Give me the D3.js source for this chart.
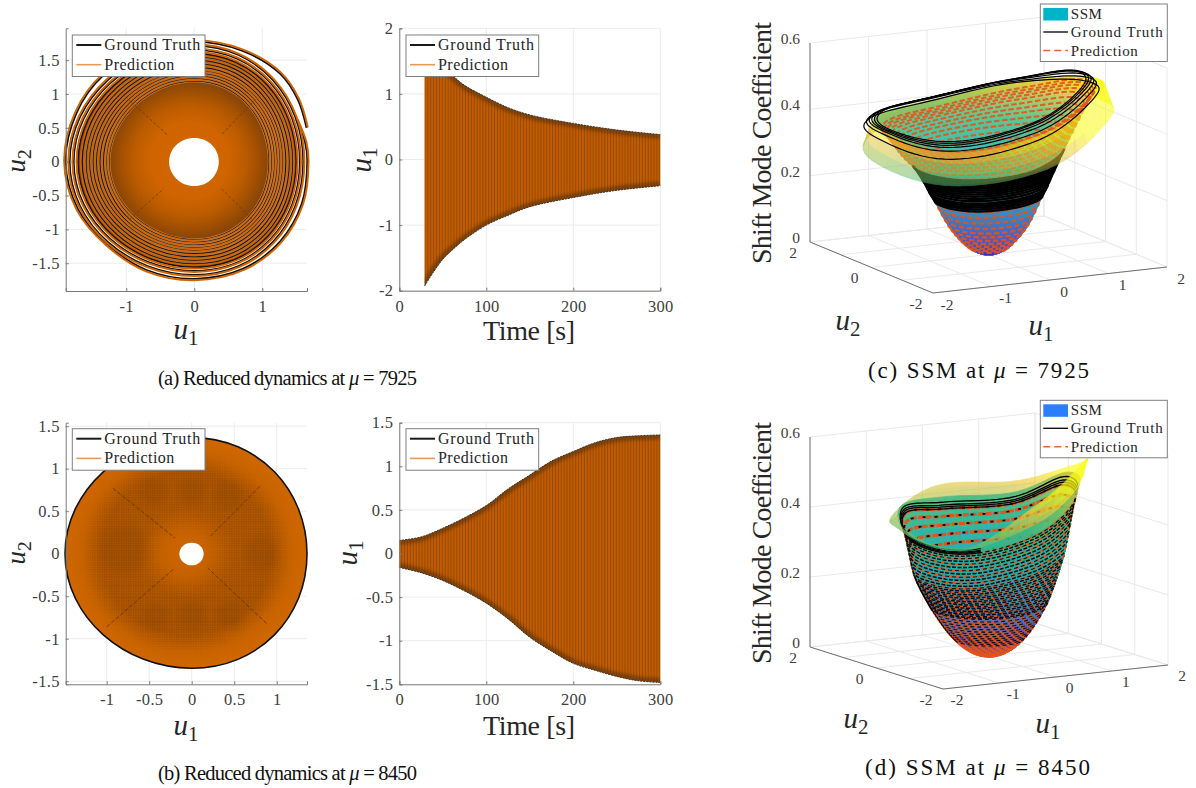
<!DOCTYPE html>
<html>
<head>
<meta charset="utf-8">
<script src="https://cdn.jsdelivr.net/npm/d3@7"></script>
<style>
  html, body { margin: 0; padding: 0; background: #fff; }
  text { font-family: "Liberation Serif", serif; }
</style>
</head>
<body>
<div id="chart"></div>
<script>
// Legend and caption text
var legendLabels = ["Ground Truth", "Prediction"];
var legendLabels3d = ["SSM", "Ground Truth", "Prediction"];

// Tick values
var ticksA1x = [-1, 0, 1];
var ticksA1y = [-1.5, -1, -0.5, 0, 0.5, 1, 1.5];
var ticksA2x = [0, 100, 200, 300];
var ticksA2y = [-2, -1, 0, 1, 2];
var ticksB1x = [-1, -0.5, 0, 0.5, 1];
var ticksB1y = [-1.5, -1, -0.5, 0, 0.5, 1, 1.5];
var ticksB2x = [0, 100, 200, 300];
var ticksB2y = [-1.5, -1, -0.5, 0, 0.5, 1, 1.5];
var ticksU = [-2, -1, 0, 1, 2];
var ticksU2 = [-2, 0, 2];
var ticksZ = [0, 0.2, 0.4, 0.6];

// Phase portrait at mu = 7925: turns of the spiral read where they cross the axes
var ringRightA = [1.60, 1.55, 1.50, 1.45, 1.40, 1.35, 1.30, 1.26, 1.22, 1.18, 1.14, 1.10, 1.06];
var ringTopA = [1.71, 1.65, 1.60, 1.55, 1.50, 1.45, 1.40, 1.35, 1.31, 1.27, 1.23, 1.19, 1.15];
var ringLeftA = [-1.83, -1.77, -1.71, -1.65, -1.59, -1.54, -1.49, -1.44, -1.39, -1.34, -1.29, -1.25, -1.21];
var ringBottomA = [-1.67, -1.61, -1.56, -1.51, -1.46, -1.41, -1.36, -1.31, -1.27, -1.23, -1.19, -1.15, -1.11];
var lastTurnU1 = [1.65, 1.52, 1.26, 0.70, 0, -0.72, -1.34, -1.73, -1.89, -1.71, -1.28, -0.70, 0, 0.72, 1.26, 1.58, 1.66, 1.63, 1.5];
var lastTurnU2 = [0.50, 0.92, 1.30, 1.64, 1.77, 1.62, 1.27, 0.72, 0, -0.70, -1.22, -1.60, -1.73, -1.58, -1.18, -0.62, 0, 0.28, 0.62];
var backingA = [1.5, 1.6, -1.71, -1.56];
var fillEdgeA = [1.08, 1.17, -1.23, -1.13];
var holeA = [0.36, 0.35, -0.37, -0.36];
var seamsA = [[-0.98, 0.93, -0.4, 0.4], [0.9, 0.92, 0.4, 0.4], [-0.95, -0.85, -0.45, -0.4], [0.85, -0.85, 0.4, -0.4]];

// Phase portrait at mu = 8450
var edgeB = [1.356, 1.365, -1.49, -1.348];
var holeB = [0.141, 0.13, -0.146, -0.137];
var seamsB = [[-0.926, 0.77, -0.196, 0.185], [0.80, 0.79, 0.215, 0.2], [-1, -0.86, -0.2, -0.17], [0.88, -0.82, 0.19, -0.17]];
var blotchU1 = [-0.78, 0.82, 0, 0, -0.45, 0.42, -0.42, 0.45];
var blotchU2 = [0.05, 0, 0.72, -0.72, 0.72, 0.68, -0.74, -0.72];
var blotchSize = [0.28, 0.2, 0.16, 0.16, 0.16, 0.16, 0.16, 0.16];

// Envelopes of the time traces
var timeA = [29, 40, 50, 60, 75, 100, 125, 150, 200, 250, 300];
var upperA = [1.9, 1.66, 1.45, 1.3, 1.13, 0.95, 0.79, 0.68, 0.55, 0.45, 0.38];
var lowerA = [-1.93, -1.7, -1.52, -1.39, -1.22, -1.0, -0.85, -0.72, -0.58, -0.47, -0.40];
var timeB = [0, 25, 50, 75, 100, 125, 150, 175, 200, 225, 250, 275, 300];
var upperB = [0.15, 0.19, 0.29, 0.41, 0.55, 0.74, 0.90, 1.06, 1.17, 1.27, 1.33, 1.35, 1.36];
var lowerB = [-0.16, -0.22, -0.31, -0.43, -0.57, -0.75, -0.96, -1.12, -1.26, -1.34, -1.41, -1.46, -1.48];

// SSM height, rows by radius, columns by angle 0, 45, ... 315 degrees
var radiiC = [0, 0.3, 0.6, 0.9, 1.1, 1.35, 1.6, 1.75, 1.82, 1.9];
var ssmC = [
  [0, 0, 0, 0, 0, 0, 0, 0],
  [0.022, 0.022, 0.022, 0.022, 0.022, 0.022, 0.022, 0.022],
  [0.09, 0.09, 0.088, 0.086, 0.086, 0.086, 0.088, 0.09],
  [0.21, 0.205, 0.195, 0.19, 0.19, 0.19, 0.2, 0.21],
  [0.30, 0.285, 0.27, 0.26, 0.26, 0.26, 0.275, 0.30],
  [0.40, 0.36, 0.33, 0.32, 0.31, 0.32, 0.34, 0.40],
  [0.49, 0.43, 0.38, 0.375, 0.375, 0.37, 0.42, 0.49],
  [0.50, 0.45, 0.40, 0.395, 0.40, 0.38, 0.43, 0.51],
  [0.47, 0.44, 0.38, 0.37, 0.36, 0.33, 0.38, 0.47],
  [0.43, 0.42, 0.36, 0.33, 0.31, 0.285, 0.33, 0.43]
];
var radiiD = [0, 0.3, 0.6, 0.9, 1.15, 1.35, 1.45, 1.52];
var ssmD = [
  [0, 0, 0, 0, 0, 0, 0, 0],
  [0.015, 0.015, 0.015, 0.015, 0.015, 0.015, 0.015, 0.015],
  [0.064, 0.064, 0.063, 0.062, 0.062, 0.062, 0.063, 0.064],
  [0.15, 0.145, 0.14, 0.14, 0.14, 0.14, 0.145, 0.155],
  [0.27, 0.25, 0.24, 0.235, 0.23, 0.23, 0.26, 0.29],
  [0.48, 0.40, 0.391, 0.405, 0.354, 0.343, 0.39, 0.46],
  [0.50, 0.425, 0.42, 0.40, 0.37, 0.35, 0.44, 0.52],
  [0.52, 0.449, 0.443, 0.389, 0.385, 0.356, 0.483, 0.574]
];

// Trajectory turns on the SSMs, by radius
var dashRingsC = [0.26, 0.31, 0.36, 0.41, 0.46, 0.51, 0.56, 0.61, 0.66, 0.71, 0.76, 0.81, 0.87, 0.93, 1.0, 1.08, 1.16, 1.22, 1.28, 1.33, 1.38, 1.42, 1.46, 1.5, 1.53, 1.56, 1.59, 1.62];
var bandRingsC = [0.82, 0.84, 0.86, 0.88, 0.9, 0.92, 0.94, 0.96, 0.98, 1.0, 1.02, 1.04, 1.06, 1.08, 1.1, 1.12, 1.14];
var loopRadiiC = [1.78, 1.74, 1.7, 1.66, 1.62, 1.58];
var loopLiftC = [0, 0.004, 0.012, 0.02, 0.03, 0.04];
var loopShiftC = -0.12;
var ringsD = [0.1, 0.13, 0.16, 0.19, 0.22, 0.25, 0.28, 0.31, 0.34, 0.37, 0.4, 0.43, 0.46, 0.49, 0.52, 0.55, 0.58, 0.61, 0.64, 0.67, 0.7, 0.73, 0.76, 0.79, 0.82, 0.85, 0.88, 0.91, 0.94, 0.97, 1.0, 1.03, 1.06, 1.09, 1.12, 1.15, 1.18, 1.21, 1.24, 1.27, 1.3, 1.33];
var heavyRingsD = [0.895, 0.925, 0.955, 0.985, 1.015, 1.045, 1.075, 1.105, 1.135, 1.165, 1.195, 1.225, 1.255, 1.285, 1.315];
var rimRadiiD = [1.33, 1.34, 1.35, 1.36];

var svg = d3.select("#chart").append("svg")
  .attr("width", 1196)
  .attr("height", 788);

var defs = svg.append("defs");

// Gradients and stripes for the dense traces
function radial(id, stops) {
  var g = defs.append("radialGradient").attr("id", id);
  stops.forEach(function(s) {
    g.append("stop").attr("offset", s[0]).attr("stop-color", s[1]);
  });
}
radial("discA", [[0, "#d46600"], [0.5, "#cf6400"], [0.72, "#ba5b00"], [0.88, "#a04f02"], [1, "#8a4606"]]);
radial("discB", [[0, "#cc6500"], [0.2, "#c76200"], [0.4, "#b05700"], [0.7, "#ad5500"], [0.86, "#c86300"], [1, "#cf6700"]]);
radial("fadeB", [[0, "#000"], [0.15, "#000"], [0.35, "#fff"], [0.72, "#fff"], [0.9, "#000"], [1, "#000"]]);

defs.append("filter").attr("id", "soft").append("feGaussianBlur").attr("stdDeviation", 4);
defs.append("filter").attr("id", "edgeSoft").append("feGaussianBlur").attr("stdDeviation", 1.6);

var stripes = defs.append("pattern").attr("id", "stripes")
  .attr("patternUnits", "userSpaceOnUse").attr("width", 2.9).attr("height", 10);
stripes.append("rect").attr("width", 2.9).attr("height", 10).attr("fill", "#c25b00");
stripes.append("rect").attr("x", 2).attr("width", 0.9).attr("height", 10).attr("fill", "#904b06");

var dots = defs.append("pattern").attr("id", "dots")
  .attr("patternUnits", "userSpaceOnUse").attr("width", 2.4).attr("height", 2.4);
dots.append("rect").attr("width", 1.2).attr("height", 1.2).attr("fill", "#5e3008");

defs.append("mask").attr("id", "fadeMask").attr("maskContentUnits", "objectBoundingBox")
  .append("rect").attr("width", 1).attr("height", 1).attr("fill", "url(#fadeB)");

// Closed curve through four axis crossings stays close to a true circle
var roundCurve = d3.curveCardinalClosed.tension(-0.657);

function crossingPoints(v) {
  return [[v[0], 0], [0, v[1]], [v[2], 0], [0, v[3]]];
}

function addAxes(g, x, y, xTicks, yTicks) {
  var w = x.range()[1], h = d3.max(y.range());
  g.selectAll(".gx").data(xTicks).enter().append("line")
    .attr("x1", d => x(d)).attr("x2", d => x(d)).attr("y1", 0).attr("y2", h)
    .attr("stroke", "#ececec");
  g.selectAll(".gy").data(yTicks).enter().append("line")
    .attr("y1", d => y(d)).attr("y2", d => y(d)).attr("x1", 0).attr("x2", w)
    .attr("stroke", "#ececec");
  return function() {
    var xa = g.append("g").attr("transform", `translate(0, ${h})`)
      .call(d3.axisBottom(x).tickValues(xTicks).tickSize(-3).tickPadding(9).tickFormat(String));
    var ya = g.append("g")
      .call(d3.axisLeft(y).tickValues(yTicks).tickSize(-3).tickPadding(6).tickFormat(String));
    [xa, ya].forEach(function(a) {
      a.selectAll("path").attr("stroke", "#7a7a7a");
      a.selectAll("line").attr("stroke", "#7a7a7a");
      a.selectAll("text").attr("font-size", 16.5).attr("fill", "#404040")
        .attr("font-family", '"Liberation Serif", serif').style("letter-spacing", "0.3px");
    });
    xa.selectAll("text").attr("dy", "0.72em");
  };
}

function mathLabel(x, y, size, sub, rotate) {
  var t = svg.append("text").attr("font-size", size).attr("fill", "#262626")
    .attr("text-anchor", "middle")
    .attr("transform", `translate(${x}, ${y})` + (rotate ? " rotate(-90)" : ""));
  t.append("tspan").attr("font-style", "italic").text("u");
  t.append("tspan").attr("font-size", size * 0.72).attr("dy", size * 0.22).text(sub);
}

function plainLabel(x, y, size, label, rotate, width) {
  var t = svg.append("text").attr("font-size", size).attr("fill", "#262626")
    .attr("text-anchor", "middle")
    .attr("transform", `translate(${x}, ${y})` + (rotate ? " rotate(-90)" : ""))
    .text(label);
  if (width) t.attr("textLength", width).attr("lengthAdjust", "spacing");
}

function caption(x, y, size, tag, rest, mu, width) {
  var t = svg.append("text").attr("x", x).attr("y", y).attr("font-size", size)
    .attr("fill", "#111").attr("textLength", width).attr("lengthAdjust", "spacing");
  t.append("tspan").text(tag + " " + rest + " ");
  t.append("tspan").attr("font-style", "italic").text("\u03bc");
  t.append("tspan").text(" = " + mu);
}

function legend2d(x, y) {
  var g = svg.append("g").attr("transform", `translate(${x}, ${y})`);
  g.append("rect").attr("width", 132.7).attr("height", 41.5)
    .attr("fill", "#fff").attr("stroke", "#7f7f7f");
  ["#1a1a1a", "#e59a5c"].forEach(function(c, i) {
    g.append("line").attr("x1", 4).attr("x2", 29)
      .attr("y1", 10 + i * 19.7).attr("y2", 10 + i * 19.7)
      .attr("stroke", c).attr("stroke-width", i ? 1.6 : 2);
    g.append("text").attr("x", 32).attr("y", 15 + i * 19.7)
      .attr("font-size", 16).attr("fill", "#262626")
      .attr("textLength", i ? 70 : 96).attr("lengthAdjust", "spacing")
      .text(legendLabels[i]);
  });
}

// Top row, phase portrait
function phaseA() {
  var g = svg.append("g").attr("transform", "translate(65.7, 28.3)");
  var x = d3.scaleLinear().domain([-1.89, 1.657]).range([0, 241.3]);
  var y = d3.scaleLinear().domain([1.97, -1.91]).range([0, 262.7]);
  var finishAxes = addAxes(g, x, y, ticksA1x, ticksA1y);
  var closed = d3.line().x(d => x(d[0])).y(d => y(d[1])).curve(roundCurve);
  var open = d3.line().x(d => x(d[0])).y(d => y(d[1])).curve(d3.curveCatmullRom);

  // outermost turn ends at the right of the plot
  var lastTurn = lastTurnU1.map((d, i) => [d, lastTurnU2[i]]);
  var grown = lastTurn.map(d => [d[0] * 1.012, d[1] * 1.012]);
  g.append("path").attr("d", open(lastTurn)).attr("fill", "none").attr("stroke", "#111").attr("stroke-width", 1.8);
  g.append("path").attr("d", open(grown)).attr("fill", "none").attr("stroke", "#d06400").attr("stroke-width", 1.9);

  // dark backing so only the outer turns leave white gaps
  g.append("path").attr("d", closed(crossingPoints(backingA))).attr("fill", "#7a4214");

  ringRightA.forEach(function(r, i) {
    var pts = crossingPoints([ringRightA[i], ringTopA[i], ringLeftA[i], ringBottomA[i]]);
    g.append("path").attr("d", closed(pts)).attr("fill", "none")
      .attr("stroke", "#111").attr("stroke-width", 1.6);
    g.append("path").attr("d", closed(pts.map(d => [d[0] * 1.012, d[1] * 1.012]))).attr("fill", "none")
      .attr("stroke", "#cf6400").attr("stroke-width", 1.9);
    // the lighter lines between the inner turns
    if (i > 3) {
      g.append("path").attr("d", closed(pts.map(d => [d[0] * 1.024, d[1] * 1.024]))).attr("fill", "none")
        .attr("stroke", "#b89070").attr("stroke-width", 0.6);
    }
  });

  g.append("path").attr("d", closed(crossingPoints(fillEdgeA))).attr("fill", "url(#discA)");
  g.append("path").attr("d", closed(crossingPoints(holeA))).attr("fill", "#fff");

  g.selectAll(".seam").data(seamsA).enter().append("line")
    .attr("x1", d => x(d[0])).attr("y1", d => y(d[1]))
    .attr("x2", d => x(d[2])).attr("y2", d => y(d[3]))
    .attr("stroke", "#6e3a0a").attr("stroke-width", 0.8).attr("stroke-dasharray", "3 2");
  finishAxes();
}

function phaseB() {
  var g = svg.append("g").attr("transform", "translate(65.7, 422.7)");
  var x = d3.scaleLinear().domain([-1.482, 1.356]).range([0, 241.3]);
  var y = d3.scaleLinear().domain([1.541, -1.536]).range([0, 261.6]);
  var finishAxes = addAxes(g, x, y, ticksB1x, ticksB1y);
  var closed = d3.line().x(d => x(d[0])).y(d => y(d[1])).curve(roundCurve);
  var disc = closed(crossingPoints(edgeB));

  g.append("path").attr("d", disc)
    .attr("fill", "url(#discB)").attr("stroke", "#111").attr("stroke-width", 1.6);

  g.selectAll(".blotch").data(blotchU1).enter().append("ellipse")
    .attr("cx", d => x(d))
    .attr("cy", (d, i) => y(blotchU2[i]))
    .attr("rx", (d, i) => x(blotchSize[i]) - x(0))
    .attr("ry", (d, i) => x(blotchSize[i]) - x(0))
    .attr("fill", "#7e3f08").attr("opacity", 0.22).attr("filter", "url(#soft)");

  // fine grain where the turns beat against the pixels
  g.append("path").attr("d", disc).attr("fill", "url(#dots)").attr("opacity", 0.3).attr("mask", "url(#fadeMask)");

  g.append("path").attr("d", closed(crossingPoints(holeB))).attr("fill", "#fff");
  g.selectAll(".seam").data(seamsB).enter().append("line")
    .attr("x1", d => x(d[0])).attr("y1", d => y(d[1]))
    .attr("x2", d => x(d[2])).attr("y2", d => y(d[3]))
    .attr("stroke", "#5e3208").attr("stroke-width", 0.8).attr("stroke-dasharray", "4 2");
  finishAxes();
}

function timePlot(id, tx, ty, h, domainY, xTicks, yTicks, time, upper, lower) {
  var g = svg.append("g").attr("transform", `translate(${tx}, ${ty})`);
  var x = d3.scaleLinear().domain([0, 300]).range([0, 261]);
  var y = d3.scaleLinear().domain(domainY).range([h, 0]);
  var finishAxes = addAxes(g, x, y, xTicks, yTicks);
  var area = d3.area().x(d => x(d)).y0((d, i) => y(lower[i])).y1((d, i) => y(upper[i]))
    .curve(d3.curveCatmullRom);
  defs.append("clipPath").attr("id", id).append("path").datum(time).attr("d", area);
  g.append("path").datum(time).attr("d", area).attr("fill", "url(#stripes)");
  [upper, lower].forEach(function(edge) {
    var line = d3.line().x(d => x(d)).y((d, i) => y(edge[i])).curve(d3.curveCatmullRom);
    // the peaks of the black trace darken the border of the band
    g.append("g").attr("clip-path", `url(#${id})`).append("path").datum(time).attr("d", line)
      .attr("fill", "none").attr("stroke", "#4a2a0c").attr("stroke-width", 9)
      .attr("opacity", 0.5).attr("filter", "url(#edgeSoft)");
    g.append("path").datum(time).attr("d", line).attr("fill", "none")
      .attr("stroke", "#333").attr("stroke-width", 1).attr("stroke-dasharray", "2 1");
  });
  finishAxes();
}

// Parula colours against SSM height
var parula = d3.scaleLinear()
  .domain([0, 0.05, 0.1, 0.15, 0.2, 0.28, 0.34, 0.4, 0.45, 0.5])
  .range(["#3e26a8", "#4050d8", "#2f6fd0", "#2890c8", "#18a8b8", "#24b49c", "#40ba80", "#a0c050", "#f0c838", "#f9fb15"])
  .clamp(true);

function catmull(a, b, c, d, t) {
  return 0.5 * (2 * b + (c - a) * t + (2 * a - 5 * b + 4 * c - d) * t * t + (3 * b - a - 3 * c + d) * t * t * t);
}

// Height at any radius and angle, read between the rows of the table
function heightAt(table, radii, r, deg) {
  var a = ((deg % 360) + 360) % 360 / 45;
  var ai = Math.floor(a), at = a - ai;
  var row = function(j) {
    return catmull(table[j][(ai + 7) % 8], table[j][ai % 8], table[j][(ai + 1) % 8], table[j][(ai + 2) % 8], at);
  };
  var j = Math.min(d3.bisectRight(radii, r) - 1, radii.length - 2);
  var t = (r - radii[j]) / (radii[j + 1] - radii[j]);
  var low = row(j), high = row(j + 1);
  var before = j > 0 ? row(j - 1) : high, after = j + 2 < radii.length ? row(j + 2) : high;
  return catmull(before, low, high, after, t);
}

function panel3d(o) {
  var project = function(u1, u2, z) {
    return [
      o.origin[0] + (u1 + 2) * o.e1[0] + (u2 + 2) * o.e2[0],
      o.origin[1] + (u1 + 2) * o.e1[1] + (u2 + 2) * o.e2[1] - z * o.ez
    ];
  };
  var seg = function(a, b, stroke) {
    var p = project(a[0], a[1], a[2]), q = project(b[0], b[1], b[2]);
    svg.append("line").attr("x1", p[0]).attr("y1", p[1]).attr("x2", q[0]).attr("y2", q[1])
      .attr("stroke", stroke);
  };

  // walls and floor
  var grid = "#e9e9e9";
  ticksU.forEach(function(t) {
    seg([t, -2, 0], [t, 2, 0], grid);
    seg([-2, t, 0], [2, t, 0], grid);
    seg([t, 2, 0], [t, 2, 0.6], grid);
    seg([2, t, 0], [2, t, 0.6], grid);
  });
  ticksZ.forEach(function(z) {
    seg([-2, 2, z], [2, 2, z], grid);
    seg([2, 2, z], [2, -2, z], grid);
  });
  var axisColor = "#707070";
  seg([-2, 2, 0], [-2, 2, 0.6], axisColor);
  seg([-2, 2, 0], [-2, -2, 0], axisColor);
  seg([-2, -2, 0], [2, -2, 0], axisColor);

  var radii = o.radii, table = o.table;
  var maxR = radii[radii.length - 1];
  var toAngle = d => d * Math.PI / 180;
  var point = function(r, deg, lift, shift) {
    var z = heightAt(table, radii, r, deg) + (lift || 0);
    return project(r * Math.cos(toAngle(deg)) + (shift || 0), r * Math.sin(toAngle(deg)), z);
  };
  // camera side, positive towards the viewer
  var facing = function(deg) {
    return Math.cos(toAngle(deg - o.frontDeg));
  };

  var quads = { lobeBack: [], cupBack: [], cupFront: [], lobeFront: [] };
  var step = 0.045, da = 6;
  for (var r = 0; r < maxR - 1e-6; r += step) {
    var r2 = Math.min(r + step, maxR);
    for (var deg = 0; deg < 360; deg += da) {
      var mid = deg + da / 2;
      var f = facing(mid);
      var lobe = r >= o.foldR;
      var pts = [point(r, deg), point(r2, deg), point(r2, deg + da), point(r, deg + da)];
      var shade = heightAt(table, radii, (r + r2) / 2, mid) * (lobe ? o.lobeScale : o.colorScale);
      var q = { pts: pts, color: parula(shade), depth: f * (r + r2) / 2 };
      if (lobe) (f > 0 ? quads.lobeFront : quads.lobeBack).push(q);
      else (f > 0 ? quads.cupFront : quads.cupBack).push(q);
    }
  }
  var layer = function(list, opacity) {
    list.sort((a, b) => a.depth - b.depth);
    svg.append("g").attr("opacity", opacity).selectAll("polygon").data(list).enter().append("polygon")
      .attr("points", d => d.pts.map(p => p[0].toFixed(1) + "," + p[1].toFixed(1)).join(" "))
      .attr("fill", d => d.color).attr("stroke", d => d.color).attr("stroke-width", 0.7);
  };

  var ringPath = function(r, from, to, lift, shift) {
    var pts = [];
    for (var a = from; a <= to; a += 4) pts.push(point(r, a, lift, shift));
    return d3.line()(pts);
  };
  var drawRings = function(list, front, stroke, width, dash, opacity, span) {
    var start = o.frontDeg + (front ? -90 : 90);
    list.forEach(function(r) {
      svg.append("path").attr("d", ringPath(r, start, start + (span || 180)))
        .attr("fill", "none").attr("stroke", stroke).attr("stroke-width", width)
        .attr("stroke-dasharray", dash).attr("opacity", opacity);
    });
  };

  layer(quads.lobeBack, 0.65);
  layer(quads.cupBack, o.backOpacity);
  o.rings(false, drawRings);
  layer(quads.cupFront, o.frontOpacity);
  o.rings(true, drawRings);
  layer(quads.lobeFront, o.lobeOpacity);
  if (o.after) o.after(ringPath);

  // ticks and labels
  var tickText = function(p, label, anchor) {
    svg.append("text").attr("x", p[0]).attr("y", p[1]).attr("font-size", 15.5)
      .attr("fill", "#404040").attr("text-anchor", anchor || "middle")
      .attr("dy", "0.32em").text(label);
  };
  ticksU.forEach(function(t) {
    var p = project(t, -2, 0);
    tickText([p[0] + o.u1Off[0], p[1] + o.u1Off[1]], String(t));
  });
  ticksU2.forEach(function(t) {
    var p = project(-2, t, 0);
    tickText([p[0] + o.u2Off[0], p[1] + o.u2Off[1]], String(t));
  });
  ticksZ.forEach(function(z) {
    var p = project(-2, 2, z);
    tickText([800, p[1] - 4], String(z), "end");
  });
  mathLabel(o.u1Label[0], o.u1Label[1], 29, "1");
  mathLabel(o.u2Label[0], o.u2Label[1], 29, "2");
  plainLabel(o.zLabelX, o.zLabelY, 28, "Shift Mode Coefficient", true, 242);

  // legend
  var lg = svg.append("g").attr("transform", `translate(1040.3, ${o.legendY})`);
  lg.append("rect").attr("width", 127).attr("height", 57.5).attr("fill", "#fff").attr("stroke", "#7f7f7f");
  lg.append("rect").attr("x", 3).attr("y", 4).attr("width", 24.7).attr("height", 12.5).attr("fill", o.patch);
  lg.append("line").attr("x1", 3).attr("x2", 27.7).attr("y1", 28).attr("y2", 28)
    .attr("stroke", "#111").attr("stroke-width", 1.4);
  lg.append("line").attr("x1", 3).attr("x2", 27.7).attr("y1", 46.5).attr("y2", 46.5)
    .attr("stroke", "#e2663a").attr("stroke-width", 1.6).attr("stroke-dasharray", "7 4");
  legendLabels3d.forEach(function(l, i) {
    lg.append("text").attr("x", 30.5).attr("y", 14.5 + i * 18.5).attr("font-size", 15)
      .attr("fill", "#262626").attr("textLength", [31, 92, 67][i]).attr("lengthAdjust", "spacing").text(l);
  });
}

phaseA();
timePlot("clipA", 399.3, 28.3, 262.4, [-2, 2], ticksA2x, ticksA2y, timeA, upperA, lowerA);
legend2d(72.3, 35);
legend2d(406, 35);
phaseB();
timePlot("clipB", 399.3, 422.7, 261.6, [-1.5, 1.5], ticksB2x, ticksB2y, timeB, upperB, lowerB);
legend2d(72.3, 428.7);
legend2d(406, 428.7);

panel3d({
  origin: [933, 293], e1: [58.5, -6.5], e2: [-30.75, -12.75], ez: 331.7,
  radii: radiiC, table: ssmC, frontDeg: 243, foldR: 1.73, colorScale: 0.97, lobeScale: 1.22,
  backOpacity: 0.85, frontOpacity: 0.8, lobeOpacity: 0.55,
  u1Off: [14, 12], u2Off: [-17, 11], u1Label: [1041, 335], u2Label: [848, 330],
  zLabelX: 771, zLabelY: 143, legendY: 4, patch: "#00b4c8",
  rings: function(front, draw) {
    draw(dashRingsC, front, "#e0541e", front ? 2.4 : 2, "5.5 2.5", 0.9);
    if (front) draw(bandRingsC, true, "#000", 2.4, null, 1);
  },
  after: function(ringPath) {
    loopRadiiC.forEach(function(r, i) {
      svg.append("path").attr("d", ringPath(r, 0, 360, loopLiftC[i], loopShiftC)).attr("fill", "none")
        .attr("stroke", "#000").attr("stroke-width", 1.2);
    });
  }
});

panel3d({
  origin: [943, 689], e1: [56.25, -6], e2: [-33.25, -10.5], ez: 350,
  radii: radiiD, table: ssmD, frontDeg: 240, foldR: 1.36, colorScale: 0.85, lobeScale: 1,
  backOpacity: 0.95, frontOpacity: 0.9, lobeOpacity: 0.72,
  u1Off: [14, 11], u2Off: [-17, 11], u1Label: [1048, 733], u2Label: [856, 728],
  zLabelX: 771, zLabelY: 543, legendY: 400.3, patch: "#2a7fff",
  rings: function(front, draw) {
    var outer = ringsD.filter(d => d > 0.5);
    if (front) {
      draw(ringsD, true, "#e0541e", 2, "5 2.5", 1);
      draw(outer, true, "#000", 1.1, "4 3", 0.9);
      draw(heavyRingsD, true, "#000", 1.5, "4 1.5", 0.95);
      // the near rim only shows to the left of the raised lobe
      draw(rimRadiiD, true, "#000", 1.3, null, 1, 85);
    } else {
      draw(ringsD, false, "#e0541e", 3.2, "6 1.5", 1);
      draw(outer, false, "#000", 1.8, "3 9", 0.95);
      draw(rimRadiiD, false, "#000", 1.3, null, 1);
    }
  }
});

caption(158, 385, 20.5, "(a)", "Reduced dynamics at", "7925", 259);
caption(158, 780, 20.5, "(b)", "Reduced dynamics at", "8450", 259);
caption(868, 378, 23, "(c)", "SSM at", "7925", 221);
caption(865, 775, 23, "(d)", "SSM at", "8450", 225);

mathLabel(186, 339, 29, "1");
mathLabel(25, 161, 27, "2", true);
mathLabel(371, 160, 29, "1", true);
plainLabel(529, 340, 28, "Time [s]", false, 92);
mathLabel(186, 735, 29, "1");
mathLabel(25, 553, 27, "2", true);
mathLabel(357, 553, 29, "1", true);
plainLabel(529, 735, 28, "Time [s]", false, 92);
</script>
</body>
</html>
